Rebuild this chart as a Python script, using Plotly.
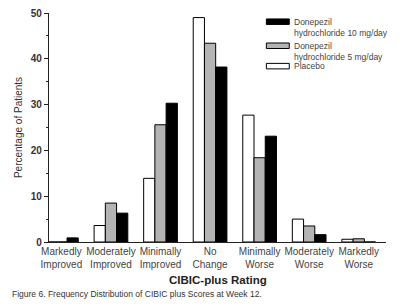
import plotly.graph_objects as go

categories = ["Markedly<br>Improved", "Moderately<br>Improved", "Minimally<br>Improved",
              "No<br>Change", "Minimally<br>Worse", "Moderately<br>Worse", "Markedly<br>Worse"]
placebo = [0.0, 3.6, 13.9, 49.0, 27.7, 5.0, 0.6]
dose5 = [0.0, 8.5, 25.6, 43.4, 18.4, 3.5, 0.7]
dose10 = [0.9, 6.3, 30.3, 38.2, 23.1, 1.6, 0.0]

series_names = ["Placebo", "Donepezil<br>hydrochloride 5 mg/day", "Donepezil<br>hydrochloride 10 mg/day"]
series_values = [placebo, dose5, dose10]
series_colors = ["#ffffff", "#b4b4b4", "#000000"]

y_ticks = [0, 10, 20, 30, 40, 50]

fig = go.Figure()
for name, vals, col in zip(series_names, series_values, series_colors):
    fig.add_trace(go.Bar(x=categories, y=vals, name=name, marker=dict(color=col, line=dict(color="#000", width=1)),
                         showlegend=False))

font = "Liberation Sans, Arial, sans-serif"
fig.update_layout(
    width=400, height=307,
    margin=dict(l=49, r=14, t=7, b=65),
    paper_bgcolor="white", plot_bgcolor="white",
    barmode="group", bargap=0.32, bargroupgap=0,
    font=dict(family=font, size=10, color="#333"),
    xaxis=dict(range=[-0.25, 6.55], showline=True, linecolor="#222", linewidth=1.2,
               ticks="", showgrid=False, zeroline=False,
               tickfont=dict(size=10, color="#444")),
    yaxis=dict(range=[0, 50], showline=True, linecolor="#222", linewidth=1.2,
               tickvals=y_ticks, ticktext=[f"<b>{v}</b>" for v in y_ticks],
               ticks="outside", ticklen=4, tickcolor="#222",
               showgrid=False, zeroline=False,
               tickfont=dict(size=10, color="#333"),
               minor=dict(dtick=5, ticks="outside", ticklen=2, tickcolor="#222", showgrid=False),
               title=dict(text="Percentage of Patients", font=dict(size=10, color="#333"), standoff=6)),
)

# Legend (order: 10 mg, 5 mg, Placebo) drawn as wide swatches
legend_y = [0.962, 0.857, 0.768]
for i, idx in enumerate([2, 1, 0]):
    y = legend_y[i]
    fig.add_shape(type="rect", xref="paper", yref="paper",
                  x0=0.645, x1=0.713, y0=y - 0.012, y1=y + 0.012,
                  fillcolor=series_colors[idx], line=dict(color="#000", width=1))
    fig.add_annotation(xref="paper", yref="paper", x=0.72, y=y + 0.03, xanchor="left", yanchor="top",
                       text=series_names[idx], showarrow=False, align="left",
                       font=dict(size=8.5, color="#444"))

fig.add_annotation(xref="paper", yref="paper", x=0.5, y=-0.132, xanchor="center", yanchor="top",
                   text="<b>CIBIC-plus Rating</b>", showarrow=False, font=dict(size=11.5, color="#222"))
fig.add_annotation(xref="paper", yref="paper", x=-0.115, y=-0.197, xanchor="left", yanchor="top",
                   text="Figure 6. Frequency Distribution of CIBIC plus Scores at Week 12.", showarrow=False,
                   font=dict(size=8.5, color="#333"))

fig.write_html("out.html")
